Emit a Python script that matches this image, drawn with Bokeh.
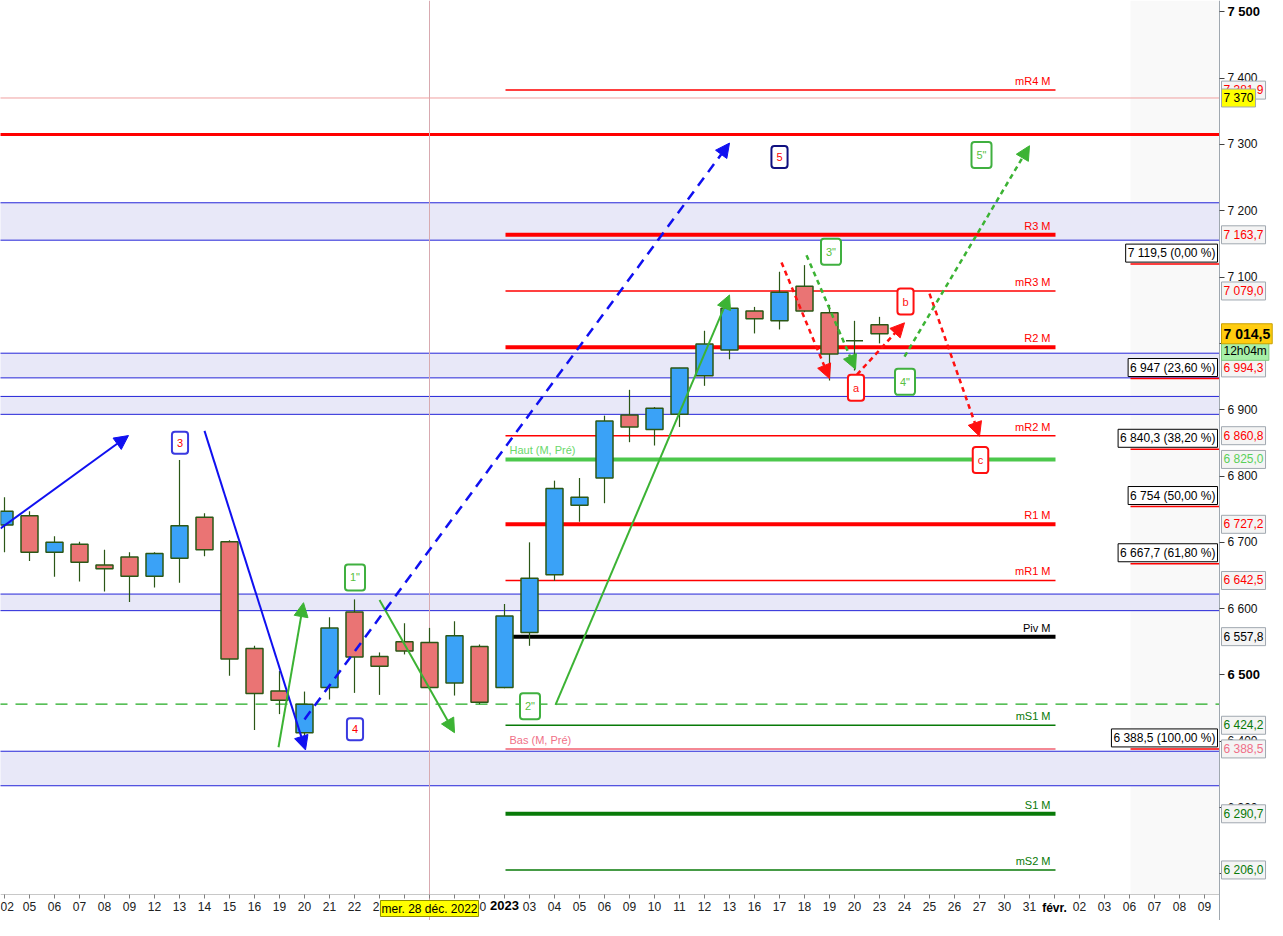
from bokeh.plotting import figure
from bokeh.models import FixedTicker, Label, Arrow, NormalHead, Range1d
from bokeh.embed import file_html
from bokeh.resources import INLINE

# --- data ----------------------------------------------------------------
days = ["02", "05", "06", "07", "08", "09", "12", "13", "14", "15", "16", "19",
        "20", "21", "22", "23", "27", "28", "29", "30",
        "2023", "03", "04", "05", "06", "09", "10", "11", "12", "13", "16", "17",
        "18", "19", "20", "23", "24", "25", "26", "27", "30", "31",
        "févr.", "02", "03", "06", "07", "08", "09"]

opens = [6726, 6740, 6685, 6697, 6666, 6678, 6649, 6676, 6738, 6701, 6540, 6476,
         6413, 6481, 6595, 6528, 6550, 6549, 6488, 6543, 6481, 6564, 6651, 6756,
         6797, 6892, 6870, 6893, 6951, 6990, 7049, 7034, 7086, 7046, 7004, 7028]
highs = [6768, 6747, 6709, 6701, 6689, 6685, 6685, 6824, 6744, 6703, 6544, 6506,
         6475, 6587, 6614, 6534, 6578, 6571, 6581, 6546, 6607, 6700, 6793, 6797,
         6891, 6930, 6904, 6963, 7019, 7059, 7055, 7108, 7118, 7058, 7034, 7040]
lows = [6685, 6672, 6648, 6641, 6626, 6610, 6632, 6639, 6679, 6499, 6417, 6441,
        6402, 6463, 6473, 6470, 6531, 6478, 6469, 6456, 6480, 6544, 6642, 6731,
        6759, 6851, 6846, 6874, 6936, 6976, 7015, 7021, 7047, 6944, 6959, 7000]
closes = [6747, 6685, 6700, 6670, 6660, 6649, 6683, 6725, 6689, 6524, 6472, 6462,
          6456, 6571, 6527, 6513, 6536, 6481, 6559, 6459, 6589, 6646, 6781, 6768,
          6883, 6874, 6902, 6963, 6999, 7053, 7037, 7077, 7049, 6984, 7004, 7014.5]
last_price = 7014.5
countdown = "12h04m"

pivot_names = ["mR4 M", "R3 M", "mR3 M", "R2 M", "mR2 M", "R1 M", "mR1 M",
               "Piv M", "mS1 M", "S1 M", "mS2 M"]
pivot_values = [7381.9, 7163.7, 7079.0, 6994.3, 6860.8, 6727.2, 6642.5,
                6557.8, 6424.2, 6290.7, 6206.0]
prev_high = 6825.0
prev_low = 6388.5

fib_values = [7119.5, 6947, 6840.3, 6754, 6667.7, 6388.5]
fib_pcts = ["0,00 %", "23,60 %", "38,20 %", "50,00 %", "61,80 %", "100,00 %"]

zones = [(7155.6, 7212), (6948, 6985.2), (6893, 6920), (6597, 6622), (6333, 6385)]
resistance = 7315
dashed_level = 6456
cross_price = 7370
cross_day = 17
cross_text = "mer. 28 déc. 2022"

# wave trend lines: (x0, y0, x1, y1, colour, style)
waves = [(-0.16, 6721, 4.96, 6861, "blue", "solid"),
         (8.0, 6868, 12.04, 6387, "blue", "solid"),
         (10.96, 6391, 11.96, 6609, "green", "solid"),
         (15.0, 6613, 18.0, 6413, "green", "solid"),
         (12.0, 6433, 29.0, 7302, "blue", "dashed"),
         (22.04, 6455, 29.0, 7073, "green", "solid"),
         (31.08, 7122, 33.0, 6947, "red", "dotted"),
         (32.08, 7133, 34.04, 6961, "green", "dotted"),
         (34.1, 6953, 36.0, 7031, "red", "dotted"),
         (37.0, 7075, 39.0, 6860, "red", "dotted"),
         (36.0, 6980, 41.0, 7298, "green", "dotted")]

# wave counts: (text, x, y, kind)
counts = [("3", 7.02, 6850, "impulse"), ("4", 14.02, 6418, "impulse"),
          ("5", 31.0, 7281, "impulse5"), ('1"', 14.02, 6647, "minor"),
          ('2"', 21.02, 6453, "minor"), ('3"', 33.06, 7138, "minor"),
          ('4"', 36.02, 6942, "minor"), ('5"', 39.08, 7284, "minor"),
          ("a", 34.06, 6933, "abc"), ("b", 36.04, 7063, "abc"),
          ("c", 39.04, 6824, "abc")]

# --------------------------------------------------------------------------
FONT = "Liberation Sans"
UP, DOWN, EDGE = "#3aa2f7", "#ea7474", "#2b5716"
RED, BLACK, DKGREEN = "#ff0000", "#000000", "#087a08"
COLORS = {"blue": "#1010f0", "green": "#3cb334", "red": "#ff1010"}
DASHES = {"solid": "solid", "dashed": "10 7", "dotted": "5 4"}

# plot window; the frame also holds the axis strips, the axes sit at fixed spots
FW, FH = 1275, 920
X_LEFT, X_AXIS = -0.16, 48.6
DX = 1 / 25                             # data units per pixel
X_RIGHT = X_LEFT + FW * DX
Y_AXIS, Y_TOP = 6169, 7517
DY = (Y_TOP - Y_AXIS) / 894
Y_BOTTOM = Y_TOP - FH * DY


def fr(v, dec=1):
    s = f"{v:,.{dec}f}"
    return s.replace(",", " ").replace(".", ",")


p = figure(frame_width=FW, frame_height=FH,
           x_range=Range1d(X_LEFT, X_RIGHT), y_range=Range1d(Y_BOTTOM, Y_TOP),
           y_axis_location="right", toolbar_location=None, output_backend="svg",
           min_border=0, background_fill_color="white",
           border_fill_color="white")
p.outline_line_color = None
p.grid.grid_line_color = None

# lighter area at the right
p.quad(left=45.04, right=X_AXIS, bottom=Y_AXIS, top=Y_TOP, fill_color="#f9f9f9",
       line_color=None)

# zones
p.quad(left=X_LEFT - 1, right=X_AXIS, bottom=[z[0] for z in zones],
       top=[z[1] for z in zones], fill_color="#e8e8f8", line_color=None)
edges = [v for z in zones for v in z]
p.segment(x0=X_LEFT - 1, x1=X_AXIS, y0=edges, y1=edges, line_color="#2424d8",
          line_width=1)

p.segment(x0=X_LEFT - 1, x1=X_AXIS, y0=[resistance], y1=[resistance],
          line_color=RED, line_width=3)
p.segment(x0=X_LEFT - 1, x1=X_AXIS, y0=[dashed_level], y1=[dashed_level],
          line_color="#22aa22", line_width=1.2, line_dash="12 8")

# crosshair
p.segment(x0=[cross_day], x1=[cross_day], y0=Y_BOTTOM, y1=Y_TOP,
          line_color="#d8aab0", line_width=1)
p.segment(x0=X_LEFT - 1, x1=X_AXIS, y0=[cross_price], y1=[cross_price],
          line_color="#f0a0a0", line_width=1)

# monthly pivots
piv_col = [BLACK if n.startswith("Piv") else (DKGREEN if "S" in n else RED)
           for n in pivot_names]
piv_w = [1.5 if n.startswith("m") else 4 for n in pivot_names]
p.segment(x0=20.04, x1=42.04, y0=pivot_values, y1=pivot_values,
          line_color=piv_col, line_width=piv_w)
p.text(x=41.84, y=pivot_values, text=pivot_names, text_color=piv_col,
       text_align="right", text_baseline="bottom", y_offset=-3,
       text_font_size="11px", text_font={"value": FONT})
p.segment(x0=20.04, x1=42.04, y0=[prev_high], y1=[prev_high],
          line_color="#4cc84c", line_width=4)
p.segment(x0=20.04, x1=42.04, y0=[prev_low], y1=[prev_low],
          line_color="#f06070", line_width=1.5)
p.text(x=20.2, y=[prev_high, prev_low], text=["Haut (M, Pré)", "Bas (M, Pré)"],
       text_color=["#6ad86a", "#f07088"], text_align="left",
       text_baseline="bottom", y_offset=-3, text_font_size="11px",
       text_font={"value": FONT})

# fibonacci levels
p.segment(x0=45.04, x1=X_AXIS, y0=fib_values, y1=fib_values,
          line_color=RED, line_width=1.5)

# candles
xs = list(range(len(opens)))
up = [i for i in xs if closes[i] >= opens[i]]
dn = [i for i in xs if closes[i] < opens[i]]
p.segment(x0=xs, x1=xs, y0=lows, y1=highs, line_color=EDGE, line_width=1.2)
p.vbar(x=up, width=0.68, bottom=[opens[i] for i in up],
       top=[closes[i] for i in up], fill_color=UP, line_color=EDGE,
       line_width=1.5)
p.vbar(x=dn, width=0.68, bottom=[closes[i] for i in dn],
       top=[opens[i] for i in dn], fill_color=DOWN, line_color=EDGE,
       line_width=1.5)

# wave lines
for x0, y0, x1, y1, c, st in waves:
    col = COLORS[c]
    p.add_layout(Arrow(x_start=x0, y_start=y0, x_end=x1, y_end=y1,
                       line_color=col, line_width=2.5 if st != "solid" else 2,
                       line_dash=DASHES[st],
                       end=NormalHead(size=14, fill_color=col, line_color=col)))

box_style = {"impulse": ("#3a3ae0", RED), "impulse5": ("#101080", RED),
             "minor": ("#40b040", "#58c040"), "abc": ("#ff1010", "#ff1010")}
for t, x, y, kind in counts:
    bc, tc = box_style[kind]
    p.add_layout(Label(x=x, y=y, text=t, text_align="center",
                       text_baseline="middle", text_color=tc,
                       text_font_size="11px", text_font=FONT,
                       background_fill_color="white", border_line_color=bc,
                       border_line_width=2, border_radius=3, padding=(5, 7)))

for v, pct in zip(fib_values, fib_pcts):
    txt = f"{fr(v, 1 if v % 1 else 0)} ({pct})"
    p.add_layout(Label(x=X_AXIS - 2 * DX, y=v, text=txt, text_align="right",
                       text_baseline="bottom", y_offset=2, text_color=BLACK,
                       text_font_size="12px", text_font=FONT,
                       background_fill_color="white", border_line_color=BLACK,
                       border_line_width=1, padding=2))

# axes, pinned at the edge of the chart area
yt = list(range(6200, 7600, 100))
p.yaxis.fixed_location = X_AXIS
p.yaxis.bounds = (Y_BOTTOM, Y_TOP)
p.yaxis.ticker = FixedTicker(ticks=yt)
p.yaxis.major_label_overrides = {t: ("" if t in (7500, 6500) else fr(t, 0)) for t in yt}
p.yaxis.axis_line_color = "#a0a8b0"
p.yaxis.major_tick_line_color = "#404040"
p.yaxis.major_tick_out = 5
p.yaxis.major_tick_in = 0
p.yaxis.minor_tick_line_color = None
p.yaxis.major_label_standoff = 3
p.yaxis.major_label_text_font = FONT
p.yaxis.major_label_text_font_size = "12px"
p.yaxis.major_label_text_color = "#101010"

xt = list(range(len(days)))
p.xaxis.fixed_location = Y_AXIS
p.xaxis.bounds = (X_LEFT, X_AXIS)
p.xaxis.ticker = FixedTicker(ticks=xt)
p.xaxis.major_label_overrides = {i: ("" if i in (16, 17, 18, 20, 42) else d)
                                 for i, d in enumerate(days)}
p.xaxis.axis_line_color = "#c8c8c8"
p.xaxis.major_tick_line_color = "#808080"
p.xaxis.major_tick_out = 4
p.xaxis.major_tick_in = 0
p.xaxis.minor_tick_line_color = None
p.xaxis.major_label_standoff = 3
p.xaxis.major_label_text_font = FONT
p.xaxis.major_label_text_font_size = "12px"
p.xaxis.major_label_text_color = "#202020"

for t in (7500, 6500):
    p.add_layout(Label(x=X_AXIS + 8 * DX, y=t, text=fr(t, 0),
                       text_align="left", text_baseline="middle",
                       text_font=FONT, text_font_size="13px",
                       text_font_style="bold", text_color=BLACK))
for i in (20, 42):
    p.add_layout(Label(x=i, y=Y_AXIS - 6 * DY, text=days[i],
                       text_align="center", text_baseline="top",
                       text_font=FONT, text_font_size="13px" if i == 20 else "12px",
                       text_font_style="bold", text_color=BLACK))
p.add_layout(Label(x=cross_day, y=Y_AXIS - 6 * DY, text=cross_text,
                   text_align="center", text_baseline="top", text_font=FONT,
                   text_font_size="12px", text_color=BLACK,
                   background_fill_color="#ffff00", border_line_color="#909000",
                   padding=1))

# price tags on the right axis (a few nudged down so they do not overlap)
TAG_X = X_AXIS + 2 * DX
tag_pos = {6994.3: 6963}
tags = [(v, c) for v, c in zip(pivot_values, piv_col)]
tags += [(prev_high, "#5ad05a"), (prev_low, "#f07088")]
for v, c in tags:
    p.add_layout(Label(x=TAG_X, y=tag_pos.get(v, v), text=fr(v),
                       text_align="left", text_baseline="middle", text_color=c,
                       text_font=FONT, text_font_size="12px",
                       background_fill_color="#f4f4f4",
                       border_line_color="#a0a8b0", padding=2))
p.add_layout(Label(x=TAG_X, y=cross_price, text=fr(cross_price, 0),
                   text_align="left", text_baseline="middle", text_color=BLACK,
                   text_font=FONT, text_font_size="12px",
                   background_fill_color="#ffff00", border_line_color="#a0a8b0",
                   padding=2))
p.add_layout(Label(x=TAG_X, y=6988, text=countdown,
                   text_align="left", text_baseline="middle", text_color=BLACK,
                   text_font=FONT, text_font_size="12px",
                   background_fill_color="#a8f0a8", border_line_color="#80c880",
                   padding=2))
p.add_layout(Label(x=TAG_X, y=last_price, text=fr(last_price),
                   text_align="left", text_baseline="middle", text_color=BLACK,
                   text_font=FONT, text_font_size="14px", text_font_style="bold",
                   background_fill_color="#ffcc10", border_line_color="#c8a000",
                   padding=2))

open("out.html", "w").write(file_html(p, INLINE))
